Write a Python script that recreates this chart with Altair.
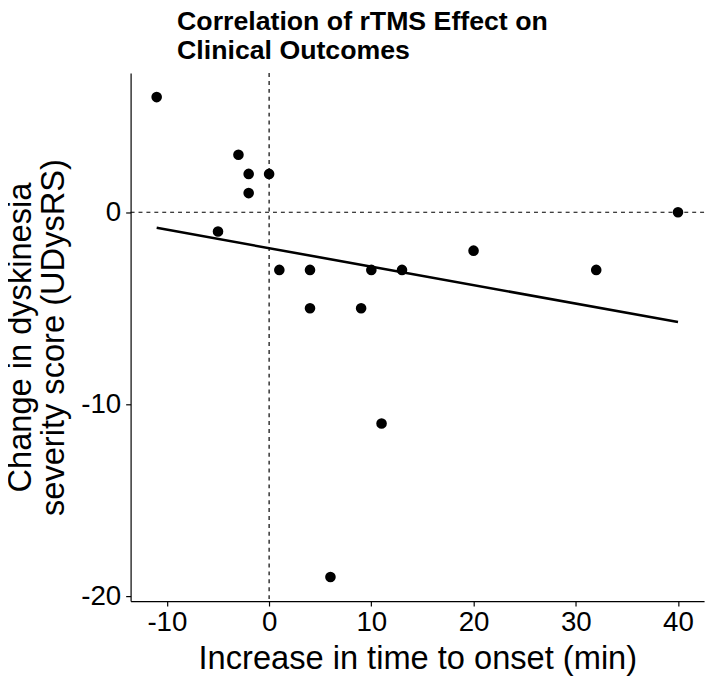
import altair as alt
import pandas as pd

x_vals = [-11, -3, -2, 0, -2, -5, 1, 4, 10, 13, 20, 32, 40, 4, 9, 11, 6]
y_vals = [6, 3, 2, 2, 1, -1, -3, -3, -3, -3, -2, -3, 0, -5, -5, -11, -19]
x_ticks = [-10, 0, 10, 20, 30, 40]
y_ticks = [-20, -10, 0]
ref_zero = [0]

df = pd.DataFrame({"x": x_vals, "y": y_vals})
ref = pd.DataFrame({"v": ref_zero})

FONT = "Liberation Sans"
xs = alt.Scale(domain=[-13.55, 42.55], nice=False, zero=False)
ys = alt.Scale(domain=[-20.25, 7.25], nice=False, zero=False)

x_axis = alt.Axis(values=x_ticks, title="Increase in time to onset (min)",
                  labelExpr="'' + datum.value", titlePadding=6, labelPadding=3)
y_axis = alt.Axis(values=y_ticks, title=["Change in dyskinesia", "severity score (UDysRS)"],
                  labelExpr="'' + datum.value", titlePadding=10, labelPadding=5,
                  titleLineHeight=34)

dash = [4, 4]
vline = alt.Chart(ref).mark_rule(color="black", strokeDash=dash, strokeWidth=1.2).encode(
    x=alt.X("v:Q", scale=xs, axis=x_axis))
hline = alt.Chart(ref).mark_rule(color="black", strokeDash=dash, strokeWidth=1.2).encode(
    y=alt.Y("v:Q", scale=ys, axis=y_axis))

reg = alt.Chart(df).transform_regression("x", "y", extent=[-11, 40]).mark_line(
    color="black", strokeWidth=2.6).encode(
    x=alt.X("x:Q", scale=xs, axis=x_axis),
    y=alt.Y("y:Q", scale=ys, axis=y_axis))

pts = alt.Chart(df).mark_circle(color="black", opacity=1, size=115).encode(
    x=alt.X("x:Q", scale=xs, axis=x_axis),
    y=alt.Y("y:Q", scale=ys, axis=y_axis))

chart = alt.layer(vline, hline, reg, pts).properties(
    width=580, height=534,
    autosize=alt.AutoSizeParams(type="none"),
    padding={"left": 124, "top": 62, "right": 6, "bottom": 75},
    title=alt.TitleParams(["Correlation of rTMS Effect on", "Clinical Outcomes"],
                          anchor="start", frame="group", fontSize=27, fontWeight="bold",
                          font=FONT, color="black", dx=47, lineHeight=29, offset=8),
).configure_view(stroke=None).configure_axis(
    grid=False, domainColor="black", domainWidth=1.2, tickColor="black", tickSize=5,
    tickWidth=1.2, labelFont=FONT, labelFontSize=28, labelColor="black",
    titleFont=FONT, titleFontSize=33, titleFontWeight="normal", titleColor="black",
)

chart.save("out.html", embed_options={"renderer": "svg", "actions": False})
